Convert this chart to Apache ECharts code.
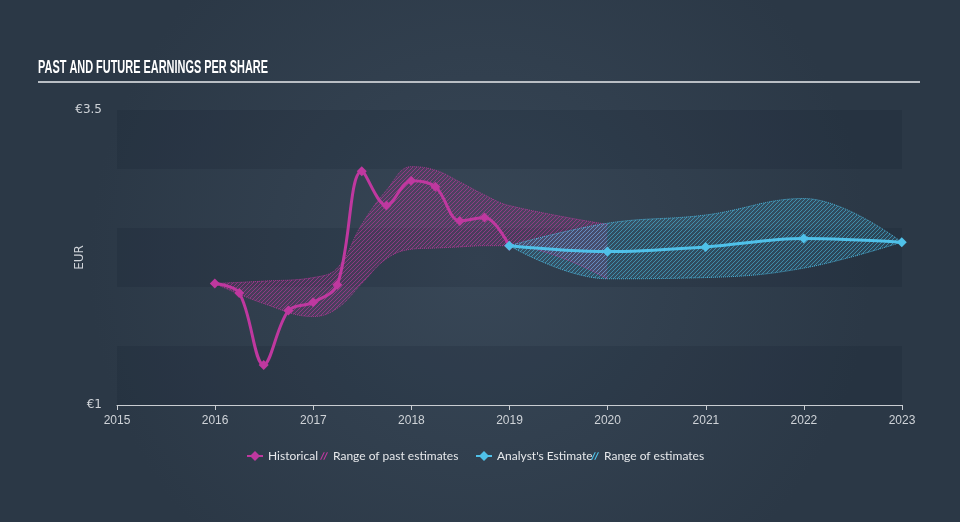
<!DOCTYPE html>
<html><head><meta charset="utf-8">
<script src="https://cdn.jsdelivr.net/npm/echarts@6/dist/echarts.min.js"></script>
<style>html,body{margin:0;padding:0;background:#313f4e}#c{width:960px;height:522px}</style>
</head><body><div id="c"></div>
<script>
// ---- data ----
const histDates = ['2015-12-31','2016-03-31','2016-06-30','2016-09-30','2016-12-31','2017-03-31','2017-06-30','2017-09-30','2017-12-31','2018-03-31','2018-06-30','2018-09-30','2018-12-31'];
const histValues = [2.03, 1.95, 1.34, 1.80, 1.87, 2.02, 2.98, 2.69, 2.90, 2.85, 2.56, 2.59, 2.35];

const estDates = ['2018-12-31','2019-12-31','2020-12-31','2021-12-31','2022-12-31'];
const estValues = [2.35, 2.30, 2.34, 2.41, 2.38];

const pastRangeDates = ['2015-12-31','2016-06-30','2016-12-31','2017-03-31','2017-06-30','2017-09-30','2017-12-31','2018-03-31','2018-06-30','2018-09-30','2018-12-31','2019-12-31'];
const pastRangeLow  = [2.03, 1.86, 1.75, 1.82, 2.03, 2.24, 2.32, 2.33, 2.34, 2.35, 2.35, 2.07];
const pastRangeHigh = [2.03, 2.05, 2.08, 2.16, 2.53, 2.82, 3.02, 2.99, 2.89, 2.78, 2.69, 2.53];

const estRangeDates = ['2018-12-31','2019-12-31','2020-12-31','2021-12-31','2022-12-31'];
const estRangeLow  = [2.35, 2.07, 2.08, 2.16, 2.38];
const estRangeHigh = [2.35, 2.54, 2.61, 2.75, 2.38];

const yTickLabels = {1: '€1', 3.5: '€3.5'};
const legendNames = ['Historical', 'Range of past estimates', "Analyst's Estimate", 'Range of estimates'];
const titleText = 'PAST AND FUTURE EARNINGS PER SHARE';

// ---- styling ----
const MAG = '#bf389f';
const CYAN = '#4fc1e9';

function hatch(line, bg) {
  const s = 4;
  const c = document.createElement('canvas'); c.width = s; c.height = s;
  const g = c.getContext('2d');
  g.fillStyle = bg; g.fillRect(0, 0, s, s);
  g.strokeStyle = line; g.lineWidth = 1;
  g.beginPath();
  g.moveTo(0, s); g.lineTo(s, 0);
  g.moveTo(-s, s); g.lineTo(s, -s);
  g.moveTo(0, 2 * s); g.lineTo(2 * s, 0);
  g.stroke();
  return c;
}
const magHatch = hatch('rgba(191,56,159,0.6)', 'rgba(191,56,159,0.16)');
const cyanHatch = hatch('rgba(79,193,233,0.55)', 'rgba(79,193,233,0.14)');

const pair = (d, v) => d.map((x, i) => [x, v[i]]);
const diff = (d, lo, hi) => d.map((x, i) => [x, +(hi[i] - lo[i]).toFixed(4)]);

const histIcon = 'path://M0,4 H4 L8,0 L12,4 H16 V6 H12 L8,10 L4,6 H0 Z';
const hatchIcon = 'path://M0,8 L4,0 H5.3 L1.3,8 Z M3.5,8 L7.5,0 H8.8 L4.8,8 Z';

const legendText = {color: '#e6e8eb', fontSize: 12, fontFamily: 'Lato'};
function leg(left, name, icon, color, w, h) {
  return {left: left, top: 450, itemWidth: w, itemHeight: h, itemGap: 0, padding: 0,
    selectedMode: false, textStyle: legendText,
    data: [{name: name, icon: icon, itemStyle: {color: color}}]};
}

// title width-fit (condensed look)
const titleFont = 'bold 18px "Liberation Sans"';
const mctx = document.createElement('canvas').getContext('2d');
mctx.font = titleFont;
const titleScale = 230 / mctx.measureText(titleText).width;

const chart = echarts.init(document.getElementById('c'), null, {renderer: 'canvas'});
chart.setOption({
  animation: false,
  backgroundColor: {type: 'radial', x: 0.5, y: 0.5, r: 0.75,
    colorStops: [{offset: 0, color: '#384757'}, {offset: 1, color: '#2b3846'}]},
  grid: {left: 117, right: 58, top: 110, bottom: 117},
  graphic: [
    {type: 'text', x: 38, y: 59, scaleX: titleScale,
      style: {text: titleText, fill: '#ffffff', font: titleFont, verticalAlign: 'top'}},
    {type: 'line', shape: {x1: 38, y1: 82, x2: 920, y2: 82}, style: {stroke: '#b9bec4', lineWidth: 2}}
  ],
  legend: [
    leg(247, legendNames[0], histIcon, MAG, 16, 10),
    leg(320, legendNames[1], hatchIcon, MAG, 8, 8),
    leg(476, legendNames[2], histIcon, CYAN, 16, 10),
    leg(591, legendNames[3], hatchIcon, CYAN, 8, 8)
  ],
  xAxis: {
    type: 'time',
    min: '2015-01-01', max: '2023-01-01',
    splitNumber: 8,
    axisLine: {show: true, lineStyle: {color: '#c9cdd2', width: 1}},
    axisTick: {show: true, length: 5, lineStyle: {color: '#c9cdd2'}},
    axisLabel: {color: '#cfd3d8', fontSize: 12, fontFamily: 'Liberation Sans', margin: 10,
      formatter: '{yyyy}', hideOverlap: false, showMinLabel: true, showMaxLabel: true},
    splitLine: {show: false}
  },
  yAxis: {
    type: 'value', min: 1, max: 3.5, interval: 0.5,
    name: 'EUR', nameLocation: 'middle', nameGap: 31, nameRotate: 90, nameMoveOverlap: false,
    nameTextStyle: {color: '#cfd3d8', fontSize: 12, fontFamily: 'DejaVu Sans'},
    axisLine: {show: false}, axisTick: {show: false}, splitLine: {show: false},
    axisLabel: {color: '#cfd3d8', fontSize: 12, fontFamily: 'DejaVu Sans', margin: 15,
      formatter: v => yTickLabels[v] || ''},
    splitArea: {show: true, areaStyle: {color: ['rgba(10,20,30,0.12)', 'rgba(0,0,0,0)']}}
  },
  series: [
    {name: 'pastLow', type: 'line', stack: 'past', smooth: 0.4, showSymbol: false, silent: true, z: 1,
      data: pair(pastRangeDates, pastRangeLow),
      lineStyle: {type: 'dotted', width: 1, color: 'rgba(191,56,159,0.8)'}},
    {name: legendNames[1], type: 'line', stack: 'past', smooth: 0.4, showSymbol: false, silent: true, z: 1,
      data: diff(pastRangeDates, pastRangeLow, pastRangeHigh),
      itemStyle: {color: MAG},
      lineStyle: {type: 'dotted', width: 1, color: 'rgba(191,56,159,0.8)'},
      areaStyle: {color: {image: magHatch, repeat: 'repeat'}, opacity: 1}},
    {name: 'estLow', type: 'line', stack: 'est', smooth: 0.4, showSymbol: false, silent: true, z: 1,
      data: pair(estRangeDates, estRangeLow),
      lineStyle: {type: 'dotted', width: 1, color: 'rgba(79,193,233,0.85)'}},
    {name: legendNames[3], type: 'line', stack: 'est', smooth: 0.4, showSymbol: false, silent: true, z: 1,
      data: diff(estRangeDates, estRangeLow, estRangeHigh),
      itemStyle: {color: CYAN},
      lineStyle: {type: 'dotted', width: 1, color: 'rgba(79,193,233,0.85)'},
      areaStyle: {color: {image: cyanHatch, repeat: 'repeat'}, opacity: 1}},
    {name: legendNames[0], type: 'line', smooth: 0.35, z: 3,
      data: pair(histDates, histValues),
      symbol: 'diamond', symbolSize: 10, showAllSymbol: true,
      itemStyle: {color: MAG}, lineStyle: {color: MAG, width: 3}},
    {name: legendNames[2], type: 'line', smooth: 0.35, z: 4,
      data: pair(estDates, estValues),
      symbol: 'diamond', symbolSize: 10, showAllSymbol: true,
      itemStyle: {color: CYAN}, lineStyle: {color: CYAN, width: 3}}
  ]
});
</script></body></html>
